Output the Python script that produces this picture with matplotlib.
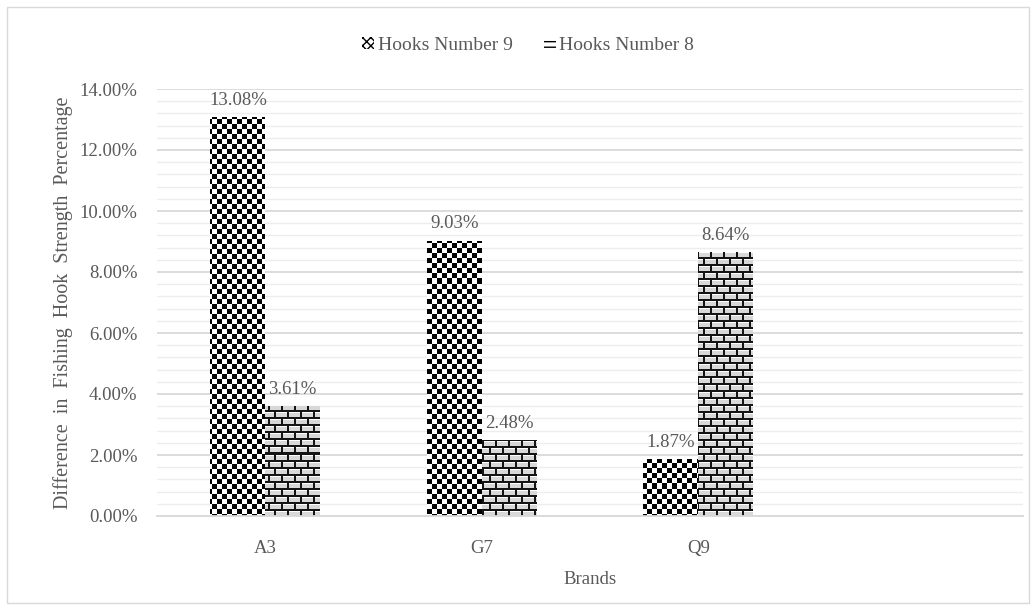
import numpy as np
import matplotlib.pyplot as plt
from matplotlib.patches import Patch, Rectangle
from matplotlib.ticker import MultipleLocator, FuncFormatter

# data
brands = ["A3", "G7", "Q9"]
hooks_9 = [13.08, 9.03, 1.87]
hooks_8 = [3.61, 2.48, 8.64]
series_names = ["Hooks Number 9", "Hooks Number 8"]

plt.rcParams['font.family'] = ['Liberation Serif', 'DejaVu Serif']
text_col = '#595959'
fs = 13.5

fig = plt.figure(figsize=(10.36, 6.10), dpi=100)
fig.patches.append(Rectangle((7 / 1036, 7 / 610), 1022 / 1036, 596 / 610,
                             transform=fig.transFigure, fill=False,
                             edgecolor='#d9d9d9', lw=1.0))
ax = fig.add_axes([157 / 1036, 94 / 610, 866 / 1036, 427 / 610])

# fill patterns, roughly one array cell per screen pixel
H, W = 427, 866
rr, cc = np.mgrid[0:H, 0:W]
checker = ((rr // 5 + cc // 5) % 2).astype(float)
checker_rgb = np.dstack([checker] * 3)

brick = np.full((H, W), 0.85)
row = rr // 7
shift = np.where(row % 2 == 0, 0, 6)
brick[(rr % 7) < 2] = 0.08
brick[((cc + shift) % 13) < 2] = 0.08
brick[((rr % 7) == 2) & (((cc + shift) % 13) >= 2)] = 1.0
brick_rgb = np.dstack([brick] * 3)

x = np.arange(len(brands))
w = 0.253
bars9 = ax.bar(x - w / 2, hooks_9, w, facecolor='none', edgecolor='none', zorder=2)
bars8 = ax.bar(x + w / 2, hooks_8, w, facecolor='none', edgecolor='none', zorder=2)

for bars, img in [(bars9, checker_rgb), (bars8, brick_rgb)]:
    for b in bars:
        im = ax.imshow(img, extent=(-0.5, 3.5, 0, 14), aspect='auto',
                       interpolation='nearest', zorder=2)
        im.set_clip_path(b)

# value labels
for bars, vals in [(bars9, hooks_9), (bars8, hooks_8)]:
    for b, v in zip(bars, vals):
        ax.annotate(f"{v:.2f}%", (b.get_x() + b.get_width() / 2, v),
                    xytext=(0, 6), textcoords='offset points',
                    ha='center', va='bottom', fontsize=fs, color=text_col)

ax.set_xlim(-0.5, 3.5)
ax.set_ylim(0, 14)
ax.set_xticks(x)
ax.set_xticklabels(brands)
ax.yaxis.set_major_locator(MultipleLocator(2))
ax.yaxis.set_minor_locator(MultipleLocator(0.4))
ax.yaxis.set_major_formatter(FuncFormatter(lambda v, p: f"{v:.2f}%"))
ax.tick_params(which='both', length=0, labelsize=fs, labelcolor=text_col)
ax.tick_params(axis='y', pad=14)
ax.tick_params(axis='x', pad=17)

ax.grid(which='major', axis='y', color='#d9d9d9', lw=1.3, zorder=0)
ax.grid(which='minor', axis='y', color='#ededed', lw=1.0, zorder=0)
ax.set_axisbelow(True)
for s in ['top', 'right', 'left']:
    ax.spines[s].set_visible(False)
ax.spines['bottom'].set_color('#d9d9d9')
ax.spines['bottom'].set_linewidth(1.3)

ax.set_xlabel("Brands", fontsize=fs, color=text_col, labelpad=10)
ax.set_ylabel("Difference  in  Fishing  Hook  Strength  Percentage",
              fontsize=14.5, color=text_col, labelpad=5)

handles = [Patch(facecolor='white', edgecolor='black', hatch='xxxx', lw=0),
           Patch(facecolor='white', edgecolor='black', hatch='---', lw=0)]
fig.legend(handles, series_names, loc='center', bbox_to_anchor=(0.51, 0.926),
           ncol=2, frameon=False, fontsize=14, labelcolor=text_col,
           handlelength=0.6, handleheight=0.6, handletextpad=0.2,
           columnspacing=1.6)

fig.savefig("out.png", dpi=100)
